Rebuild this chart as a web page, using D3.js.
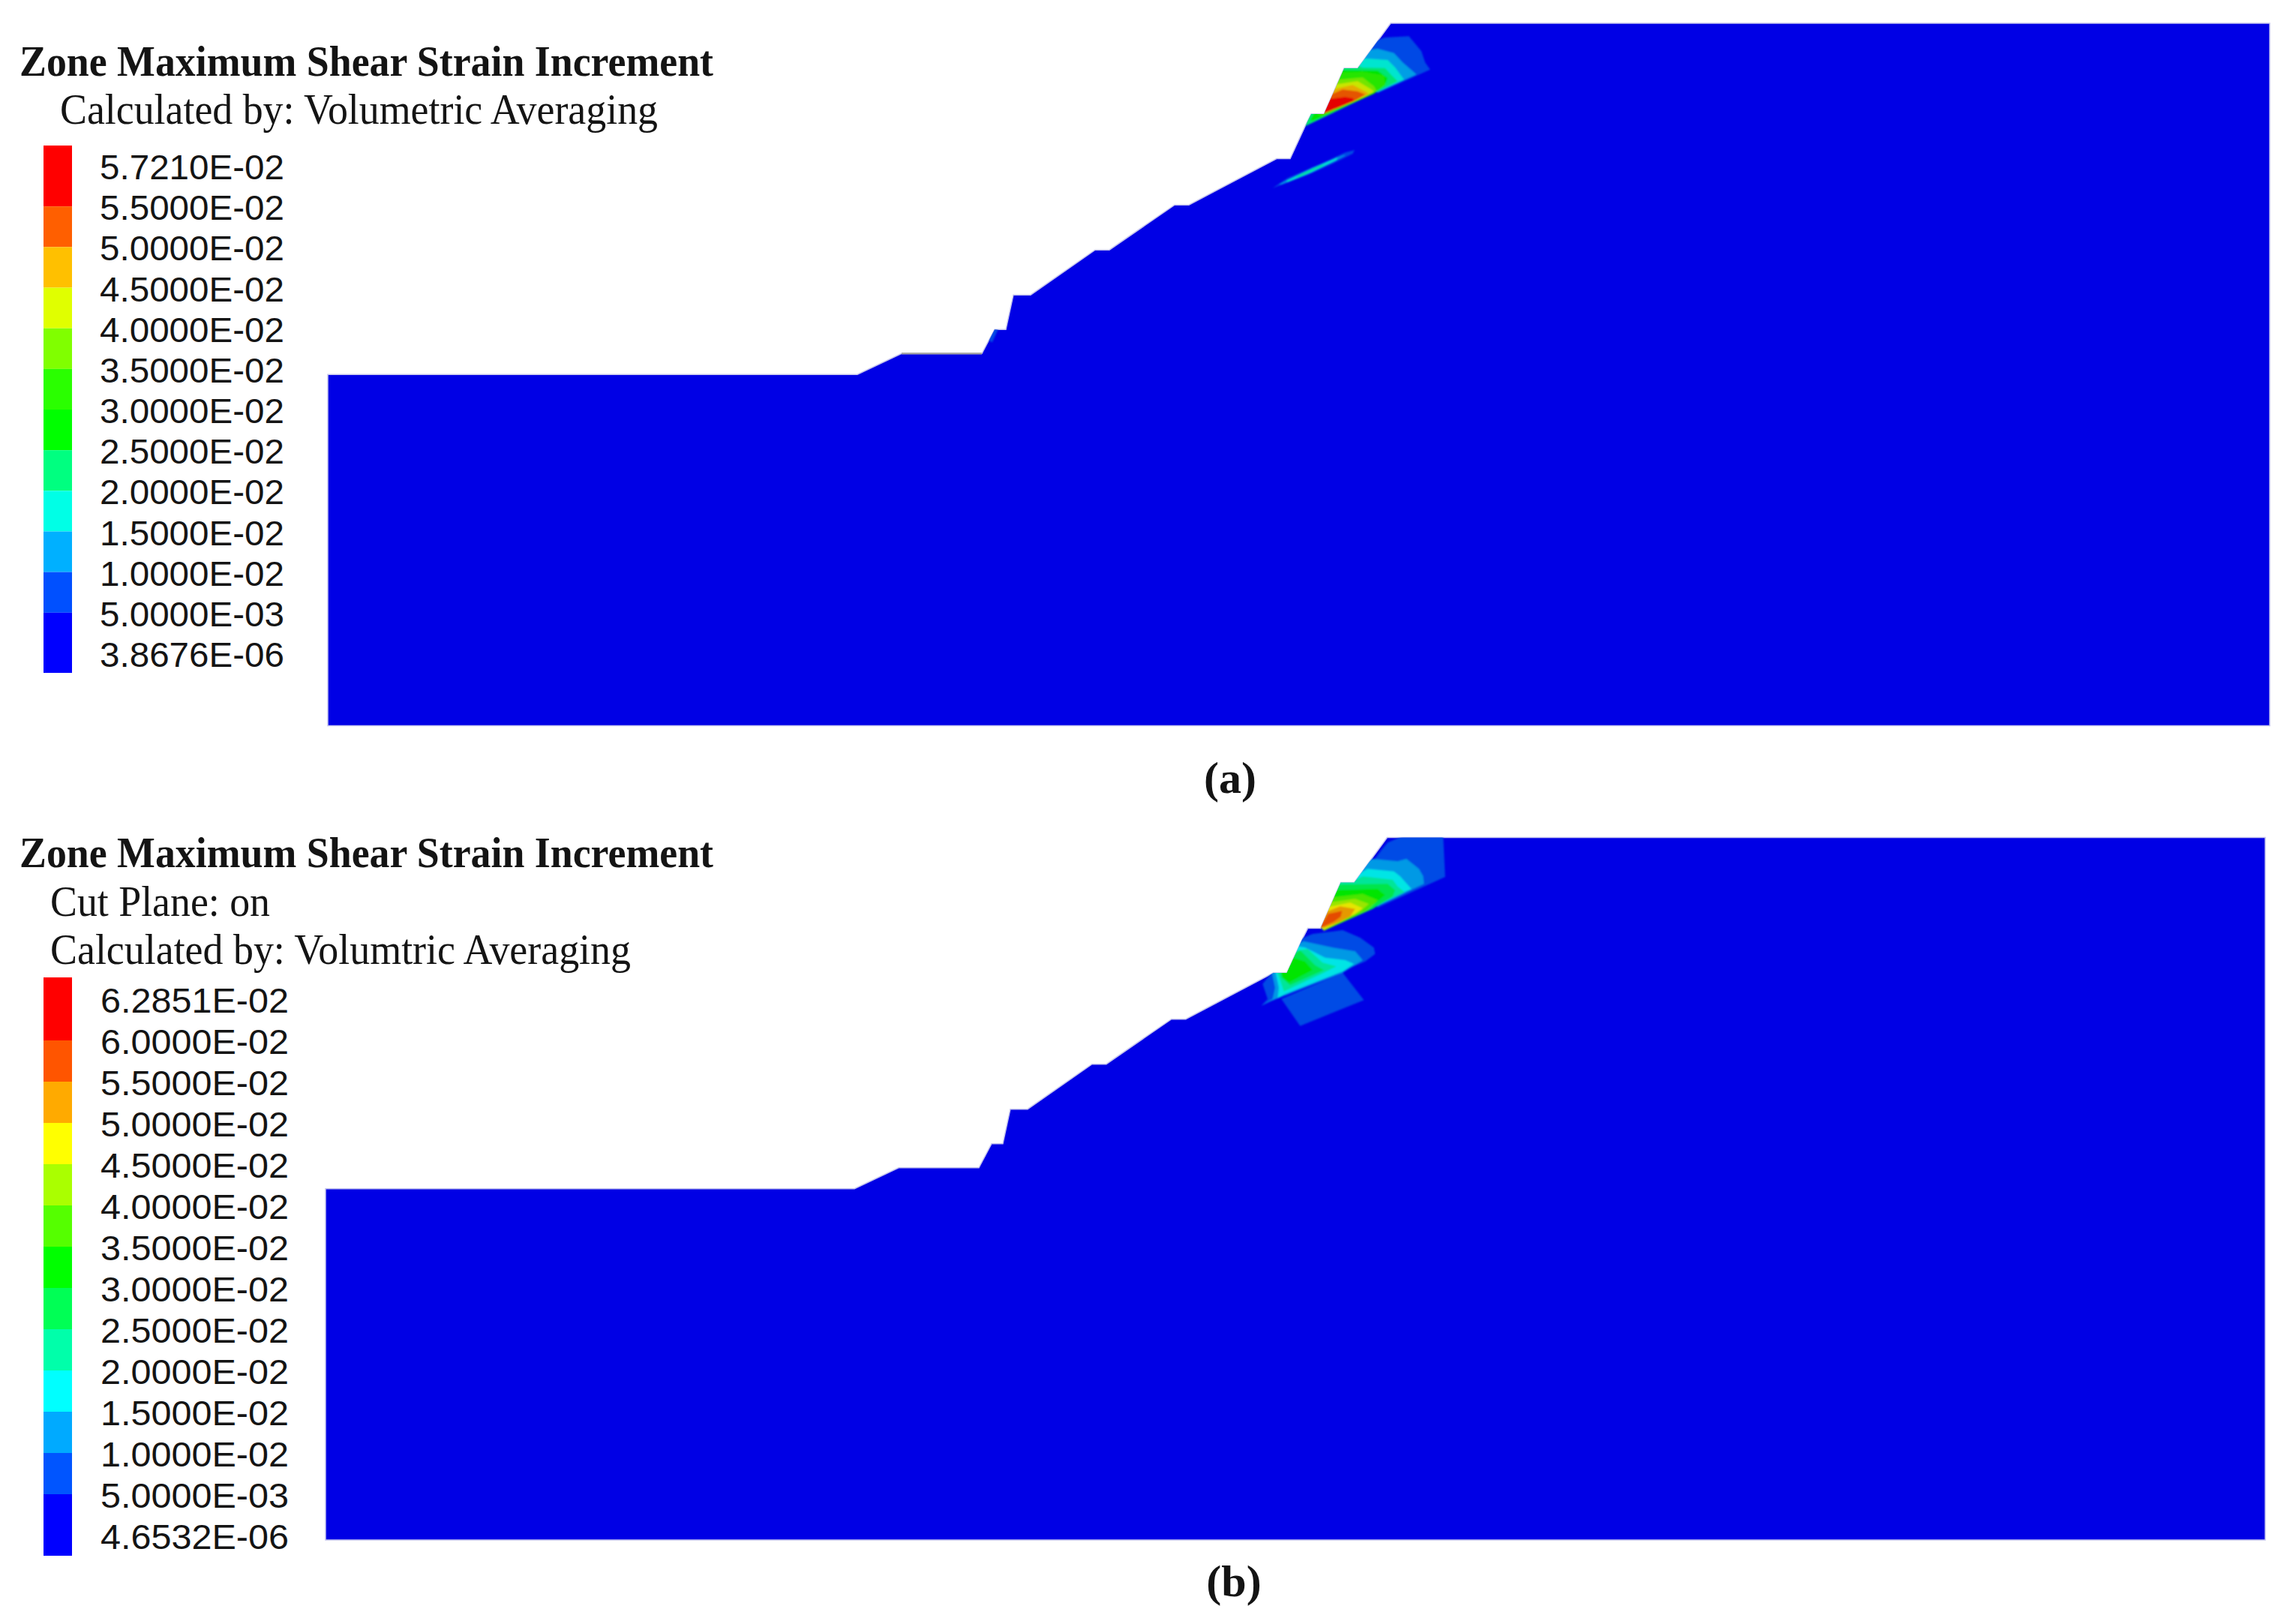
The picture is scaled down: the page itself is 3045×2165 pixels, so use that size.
<!DOCTYPE html>
<html><head><meta charset="utf-8">
<script src="https://cdn.jsdelivr.net/npm/d3@7/dist/d3.min.js"></script>
<style>html,body{margin:0;padding:0;background:#fff}svg{display:block}
text{fill:#141414}
.t{font-family:"Liberation Serif",serif;font-weight:700}
.s{font-family:"Liberation Serif",serif}
.l{font-family:"Liberation Sans",sans-serif}
</style></head><body><div id="c"></div>
<script>
// ---- legend data ----
const labelsA = ["5.7210E-02","5.5000E-02","5.0000E-02","4.5000E-02","4.0000E-02","3.5000E-02","3.0000E-02","2.5000E-02","2.0000E-02","1.5000E-02","1.0000E-02","5.0000E-03","3.8676E-06"];
const labelsB = ["6.2851E-02","6.0000E-02","5.5000E-02","5.0000E-02","4.5000E-02","4.0000E-02","3.5000E-02","3.0000E-02","2.5000E-02","2.0000E-02","1.5000E-02","1.0000E-02","5.0000E-03","4.6532E-06"];
const thresholdsA = [.005,.01,.015,.02,.025,.03,.035,.04,.045,.05,.055];
const thresholdsB = [.005,.01,.015,.02,.025,.03,.035,.04,.045,.05,.055,.06];
const coloursA = ["#0000ff","#0050ff","#00b0ff","#00ffe6","#00ff80","#00ff00","#2aff00","#80ff00","#e0ff00","#ffc000","#ff5f00","#ff0000"];
const coloursB = ["#0000ff","#0055ff","#00aaff","#00ffff","#00ffaa","#00ff55","#00ff00","#55ff00","#aaff00","#ffff00","#ffaa00","#ff5500","#ff0000"];

// ---- slope profile, model units (distance, elevation) ----
const terrain = [[0,468],[706,468],[765,496],[872,496],[889,528],[904,528],[914,574],[937,574],[1023,634],[1042,634],[1129,694],[1148,694],[1265,755.5],[1283,755.5],[1303,799],[1311,815],[1328,815],[1355,876],[1373,876],[1417,936],[2589,936],[2589,0],[0,0]];
const ledgeA = [[765,496],[872,496]];
const patchA = [[881,513],[887,529],[894,529],[886,511]];

// ---- strain bands: [level, polygon] in detail-window units ----
const bandsA = [
 [.005,[[140,752],[200,712],[310,665],[430,610],[468,600],[460,615],[380,655],[280,700],[160,745]]],
 [.01,[[165,738],[300,670],[425,620],[432,620],[300,688],[175,738]]],
 [.015,[[195,724],[300,675],[400,630],[395,640],[290,690],[200,728]]],
 [.02,[[235,706],[335,660],[345,660],[240,709]]],
 [.005,[[530,170],[590,150],[685,145],[735,205],[750,250],[770,278],[600,355],[560,372],[490,260]]],
 [.01,[[500,205],[560,195],[625,212],[660,250],[715,298],[610,345],[560,370],[480,260]]],
 [.015,[[480,235],[530,235],[600,240],[630,270],[665,318],[560,366],[460,290]]],
 [.02,[[270,505],[285,445],[345,445],[415,262],[480,262],[500,270],[590,272],[615,300],[640,325],[560,366]]],
 [.025,[[290,480],[405,280],[560,282],[600,312],[590,340],[545,375],[300,484]]],
 [.03,[[320,460],[400,292],[500,287],[585,302],[590,340],[540,376],[335,466]]],
 [.035,[[335,452],[388,320],[500,310],[545,345],[555,362],[525,378],[350,450]]],
 [.04,[[335,452],[378,340],[480,325],[530,355],[545,366],[500,390],[350,450]]],
 [.045,[[335,452],[368,360],[460,340],[510,365],[525,376],[480,397],[350,450]]],
 [.05,[[335,452],[356,385],[420,358],[480,365],[510,378],[470,402],[350,450]]],
 [.055,[[335,455],[368,395],[430,388],[462,393],[465,404],[355,450]]]
];
const bandsB = [
 [.005,[[175,725],[420,620],[505,730],[250,833]]],
 [.005,[[100,665],[145,610],[165,650],[178,712],[130,735],[95,752],[120,725]]],
 [.005,[[240,490],[300,465],[420,450],[490,480],[545,520],[550,545],[510,575],[190,712],[160,680]]],
 [.01,[[230,510],[265,495],[380,520],[470,535],[500,570],[420,620],[180,715],[130,735],[95,752],[140,725],[150,680],[135,610],[200,600]]],
 [.015,[[225,512],[270,520],[350,560],[430,570],[465,585],[420,615],[190,705],[160,722],[165,680],[150,610],[190,600]]],
 [.02,[[215,535],[280,525],[340,580],[395,595],[345,620],[185,695],[170,650],[155,610],[190,610]]],
 [.025,[[190,570],[250,530],[310,590],[345,610],[210,670],[175,640],[170,610]]],
 [.03,[[175,620],[205,555],[270,575],[300,610],[205,660],[180,640]]],
 [.005,[[575,130],[600,100],[670,70],[822,70],[830,237],[560,360],[530,190]]],
 [.01,[[510,180],[540,165],[640,175],[675,165],[725,205],[742,235],[745,265],[690,290],[610,330],[575,345],[480,240]]],
 [.015,[[485,225],[520,205],[625,215],[650,235],[695,285],[625,315],[545,360],[460,270]]],
 [.02,[[405,250],[470,250],[500,235],[620,248],[640,275],[668,298],[540,360],[345,450],[330,440]]],
 [.025,[[400,268],[600,265],[630,290],[620,315],[540,365],[345,452],[335,440]]],
 [.03,[[390,290],[560,285],[590,310],[555,340],[480,390],[345,450],[335,440]]],
 [.035,[[372,320],[500,305],[560,330],[520,370],[345,452],[335,438]]],
 [.04,[[362,340],[470,325],[525,345],[490,375],[345,450],[335,438]]],
 [.045,[[352,360],[450,340],[500,362],[470,385],[345,447],[332,440]]],
 [.05,[[345,380],[410,355],[470,365],[450,395],[400,420],[342,442],[332,440]]],
 [.055,[[328,440],[362,385],[418,373],[412,397],[385,416],[350,433]]]
];

// ---- page set-up ----
const svg = d3.select("#c").append("svg").attr("width",3045).attr("height",2165);
const defs = svg.append("defs");
defs.append("filter").attr("id","soft").append("feGaussianBlur").attr("stdDeviation",0.9);
const domainX=[0,2589], domainE=[0,936];

function text(sel,cls,str,x,y,size,len,anchor){
  const t=sel.append("text").attr("class",cls).attr("x",x).attr("y",y).attr("font-size",size).text(str);
  if(len) t.attr("textLength",len).attr("lengthAdjust","spacingAndGlyphs");
  if(anchor) t.attr("text-anchor",anchor);
  return t;
}

function panel(o){
  const g=svg.append("g");
  const x=d3.scaleLinear(domainX,o.xr), y=d3.scaleLinear(domainE,o.yr);
  const dx=d3.scaleLinear([0,960],[1650,1970]), dy=d3.scaleLinear(o.dyd,o.dyr);
  const colour=d3.scaleThreshold(o.thresholds,o.colours);
  const field=c=>d3.rgb(c).darker(.3).formatHex();
  const profile=d3.line().x(d=>x(d[0])).y(d=>y(d[1]));
  const detail=d3.line().x(d=>dx(d[0])).y(d=>dy(d[1]));

  defs.append("clipPath").attr("id","clip"+o.id).append("path").attr("d",profile(terrain)+"Z");
  g.append("path").attr("d",profile(terrain)+"Z").attr("fill",field(o.colours[0]))
    .attr("stroke","#c4c4ee").attr("stroke-width",1.5);
  const cg=g.append("g").attr("clip-path",`url(#clip${o.id})`).append("g").attr("filter","url(#soft)");
  cg.selectAll("path.b").data(o.bands).join("path").attr("class","b")
    .attr("d",d=>detail(d[1])+"Z").attr("fill",d=>field(colour(d[0])));
  if(o.patch) cg.append("path").attr("d",profile(o.patch)+"Z").attr("fill",field(colour(.005)));
  if(o.ledge) g.append("path").attr("d",profile(o.ledge)).attr("fill","none").attr("stroke","#a8a8a8").attr("stroke-width",2.5);

  // heading
  text(g,"t","Zone Maximum Shear Strain Increment",26,o.titleY,57,925);
  o.notes.forEach(n=>text(g,"s",n.s,n.x,n.y,56,n.w));

  // colour key
  const ky=d3.scalePoint(o.labels,o.keyCentre);
  const blocks=o.colours.slice().reverse();
  g.selectAll("rect.k").data(blocks).join("rect").attr("class","k")
    .attr("x",58).attr("width",38)
    .attr("y",(d,i)=>i==0?o.keyEnds[0]:ky(o.labels[i]))
    .attr("height",(d,i)=>(i==blocks.length-1?o.keyEnds[1]:ky(o.labels[i+1]))-(i==0?o.keyEnds[0]:ky(o.labels[i])))
    .attr("fill",d=>d);
  g.selectAll("text.l").data(o.labels).join("text").attr("class","l")
    .attr("x",o.labelX).attr("y",d=>ky(d)+o.baseOff).attr("font-size",47)
    .attr("textLength",o.labelW).attr("lengthAdjust","spacingAndGlyphs").text(d=>d);

  text(g,"t",o.caption,o.capX,o.capY,60,null,"middle");
}

panel({id:"A",xr:[437,3026],yr:[967.5,31],dyd:[0,840],dyr:[0,280],thresholds:thresholdsA,colours:coloursA,bands:bandsA,patch:patchA,ledge:ledgeA,
  titleY:100.5,notes:[{s:"Calculated by: Volumetric Averaging",x:80,y:164.5,w:797}],
  labels:labelsA,keyCentre:[221,871],keyEnds:[194,897],baseOff:18,labelX:133,labelW:246,caption:"(a)",capX:1640,capY:1057});
panel({id:"B",xr:[434,3020],yr:[2053,1116.5],dyd:[0,900],dyr:[1090,1390],thresholds:thresholdsB,colours:coloursB,bands:bandsB,
  titleY:1155.5,notes:[{s:"Cut Plane: on",x:67,y:1220.5,w:293},{s:"Calculated by: Volumtric Averaging",x:67,y:1284.5,w:774}],
  labels:labelsB,keyCentre:[1332,2047],keyEnds:[1303,2074],baseOff:18,labelX:134,labelW:251,caption:"(b)",capX:1645,capY:2128});
</script></body></html>
